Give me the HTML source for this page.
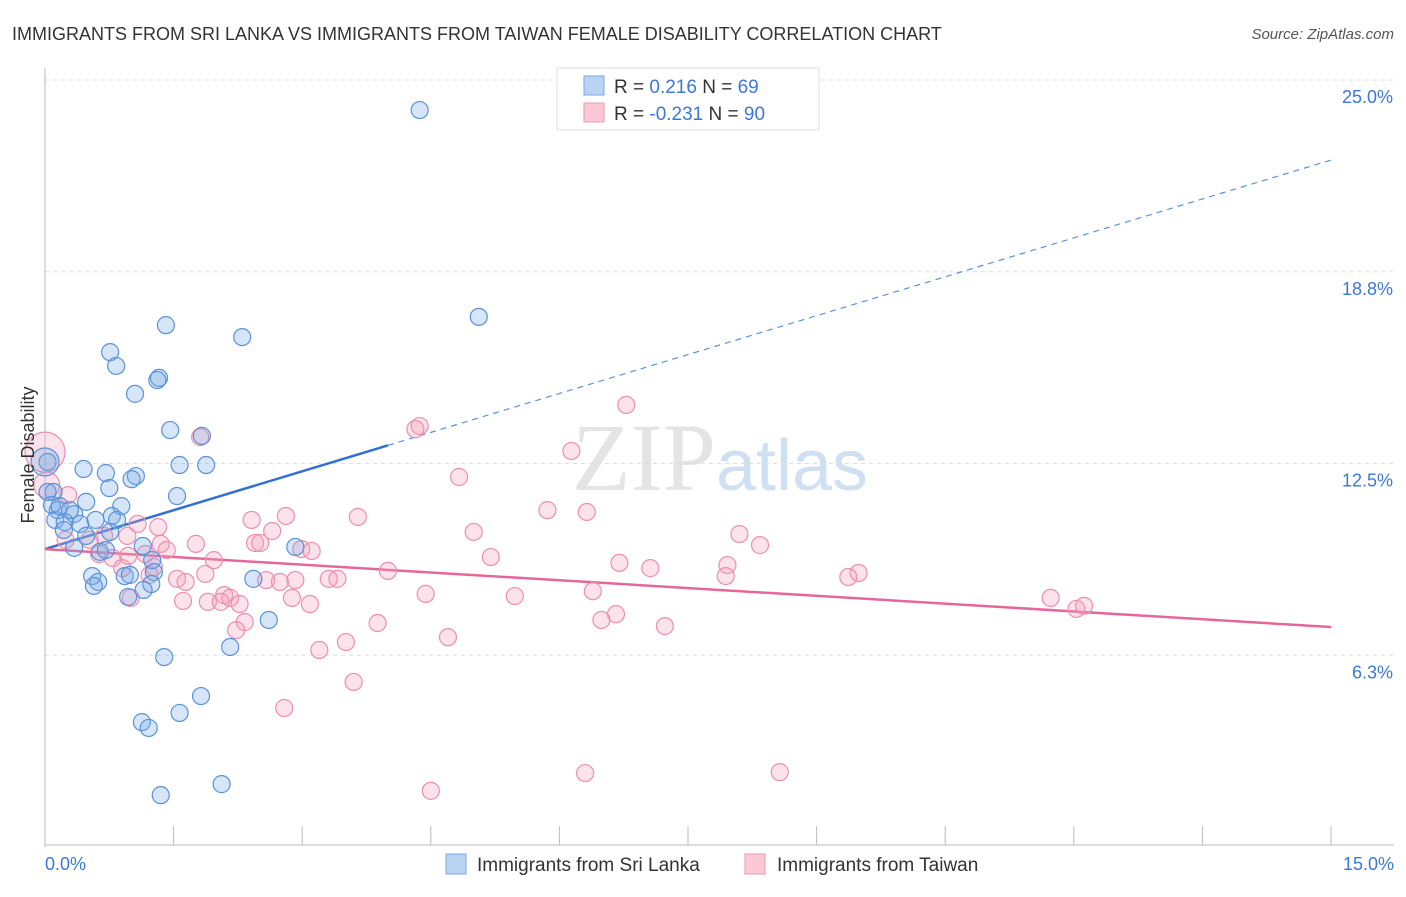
<!DOCTYPE html>
<html><head><meta charset="utf-8"><style>
body{margin:0;background:#fff;font-family:"Liberation Sans",sans-serif}
</style></head><body>
<svg id="chart" width="1406" height="892" xmlns="http://www.w3.org/2000/svg" font-family="Liberation Sans, sans-serif">
<text x="12" y="40" font-size="18" fill="#333">IMMIGRANTS FROM SRI LANKA VS IMMIGRANTS FROM TAIWAN FEMALE DISABILITY CORRELATION CHART</text>
<text x="1394" y="39" font-size="15" fill="#555" font-style="italic" text-anchor="end">Source: ZipAtlas.com</text>
<text x="720" y="490" font-size="96" fill="#e4e4e4" text-anchor="middle" font-family="Liberation Serif, serif">ZIP<tspan fill="#cfe0f3" font-family="Liberation Sans, sans-serif" font-size="72">atlas</tspan></text>
<g id="grid"></g>
<g id="axes"></g>
<g id="trend"></g>
<g id="pts"></g>
<text transform="translate(34,455) rotate(-90)" font-size="18" fill="#333" text-anchor="middle">Female Disability</text>
<text x="45" y="870" font-size="18" fill="#3b78d8">0.0%</text>
<text x="1394" y="870" font-size="18" fill="#3b78d8" text-anchor="end">15.0%</text>
<g>
<rect x="557" y="68" width="262" height="62" fill="#fff" stroke="#ddd"/>
<rect x="584" y="76" width="20" height="19" fill="#b9d3f3" stroke="#7aa7e0"/>
<rect x="584" y="103" width="20" height="19" fill="#fcc8d6" stroke="#ee9ab3"/>
<text x="614" y="93" font-size="19" fill="#333">R =  <tspan fill="#3b78d8">  0.216</tspan>   N =  <tspan fill="#3b78d8">69</tspan></text>
<text x="614" y="120" font-size="19" fill="#333">R = <tspan fill="#3b78d8">-0.231</tspan>   N =  <tspan fill="#3b78d8">90</tspan></text>
</g>
<g>
<rect x="446" y="854" width="20" height="20" fill="#b9d3f3" stroke="#7aa7e0"/>
<text x="477" y="871" font-size="19" fill="#333">Immigrants from Sri Lanka</text>
<rect x="745" y="854" width="20" height="20" fill="#fcc8d6" stroke="#ee9ab3"/>
<text x="777" y="871" font-size="19" fill="#333">Immigrants from Taiwan</text>
</g>
</svg>
<script>
const yTicks=[6.25,12.5,18.75,25];
const yTickLabels=["6.3%","12.5%","18.8%","25.0%"];
const xTicks=[0,1.5,3,4.5,6,7.5,9,10.5,12,13.5,15];
const blueX=[4.37,5.06,1.41,2.30,0.76,0.83,1.33,1.31,1.05,1.46,1.83,1.57,1.88,0.45,0.71,1.06,1.01,0.75,1.54,0.10,0.48,0.15,0.89,0.34,0.78,0.84,0.12,0.23,0.41,0.59,0.22,0.48,2.92,0.34,1.14,0.64,1.25,0.55,0.93,0.99,1.27,2.43,0.62,0.57,1.24,1.15,0.97,2.61,2.16,1.39,1.82,1.57,1.13,1.21,2.06,1.35,0.03,0.03,0.08,0.17,0.29,0.76,0.71,0.0];
const blueY=[24.02,17.28,17.01,16.62,16.13,15.68,15.29,15.22,14.77,13.59,13.40,12.45,12.45,12.32,12.19,12.09,11.99,11.70,11.44,11.57,11.25,10.98,11.11,10.85,10.79,10.66,10.66,10.59,10.53,10.66,10.33,10.14,9.78,9.75,9.81,9.62,9.35,8.83,8.83,8.87,8.96,8.74,8.64,8.51,8.57,8.38,8.15,7.40,6.52,6.19,4.92,4.37,4.07,3.88,2.05,1.69,12.55,11.57,11.15,11.11,10.98,10.27,9.68,12.55];
const blueR=[8.5,8.5,8.5,8.5,8.5,8.5,8.5,8.5,8.5,8.5,8.5,8.5,8.5,8.5,8.5,8.5,8.5,8.5,8.5,8.5,8.5,8.5,8.5,8.5,8.5,8.5,8.5,8.5,8.5,8.5,8.5,8.5,8.5,8.5,8.5,8.5,8.5,8.5,8.5,8.5,8.5,8.5,8.5,8.5,8.5,8.5,8.5,8.5,8.5,8.5,8.5,8.5,8.5,8.5,8.5,8.5,8.5,8.5,8.5,8.5,8.5,8.5,8.5,14];
const pinkX=[6.78,4.37,4.32,1.81,6.14,4.83,0.27,5.86,6.32,3.65,2.41,2.81,1.32,1.08,2.65,5.00,8.10,0.69,0.24,0.96,2.45,2.51,8.34,1.76,1.35,2.99,3.11,5.20,0.79,0.97,0.63,1.17,1.42,6.70,1.97,7.96,7.06,1.27,4.00,7.94,9.49,9.37,3.31,3.41,2.58,2.92,1.54,1.64,2.74,1.87,0.90,1.22,6.39,5.48,4.44,2.09,2.16,1.90,2.05,2.27,2.88,3.09,1.61,1.00,11.73,12.03,12.12,6.66,6.49,7.23,3.88,2.33,2.23,4.70,3.51,3.20,3.60,2.79,6.30,8.57,4.50,0.52,0.0,0.02];
const pinkY=[14.41,13.72,13.62,13.36,12.91,12.06,11.47,10.98,10.92,10.76,10.66,10.79,10.43,10.53,10.30,10.27,10.20,10.14,10.01,10.14,9.91,9.91,9.84,9.88,9.88,9.71,9.65,9.45,9.42,9.49,9.55,9.55,9.68,9.26,9.35,9.19,9.09,9.13,9.00,8.83,8.93,8.80,8.74,8.74,8.70,8.70,8.74,8.64,8.64,8.90,9.09,8.87,8.34,8.18,8.25,8.21,8.12,7.99,7.99,7.92,8.12,7.92,8.02,8.12,8.12,7.76,7.86,7.59,7.40,7.20,7.30,7.33,7.07,6.84,6.68,6.42,5.38,4.53,2.41,2.44,1.83,10.01,12.87,11.8];
const pinkR=pinkX.map((_,i)=>i===pinkX.length-2?20:(i===pinkX.length-1?13:8.5));
const blueTrend=[9.71,22.39];
const pinkTrend=[9.71,7.17];
const blueSolidEnd=4.0;

const X0=45,X1=1331,Y0=847,Y25=80;
const xs=v=>X0+(v/15)*(X1-X0);
const ys=v=>Y0-(v/25)*(Y0-Y25);
const NS="http://www.w3.org/2000/svg";
function mk(tag,attrs,parent){const e=document.createElementNS(NS,tag);for(const k in attrs)e.setAttribute(k,attrs[k]);parent.appendChild(e);return e;}
const grid=document.getElementById('grid'),axes=document.getElementById('axes');
yTicks.forEach((t,i)=>{
 const l=mk('line',{x1:X0,x2:1394,y1:ys(t),y2:ys(t),stroke:'#ddd','stroke-dasharray':'4,4'},grid);
 
 
 const tx=mk('text',{x:1393,y:ys(t)+23,'font-size':18,fill:'#3b78d8','text-anchor':'end'},axes);
 tx.textContent=yTickLabels[i];
 
 
});
const ax=mk('line',{x1:X0,x2:X0,y1:68,y2:Y0,stroke:'#bbb'},axes);


const bx=mk('line',{x1:X0,x2:1394,y1:Y0-2,y2:Y0-2,stroke:'#bbb'},axes);


xTicks.forEach(t=>{
 const l=mk('line',{x1:xs(t),x2:xs(t),y1:826,y2:Y0-2,stroke:'#bbb'},axes);
 
 
});
const pts=document.getElementById('pts');
function dots(X,Y,R,fill,stroke,name){X.forEach((x,i)=>{
 const c=mk('circle',{cx:xs(x),cy:ys(Y[i]),r:R[i],fill:fill,stroke:stroke,'stroke-width':1.2},pts);
 
 
});}
dots(pinkX,pinkY,pinkR,'rgba(246,160,186,0.3)','#ec8fae','point-taiwan');
dots(blueX,blueY,blueR,'rgba(120,170,230,0.3)','#5a92da','point-sri-lanka');
const tr=document.getElementById('trend');
const bAt=x=>blueTrend[0]+(blueTrend[1]-blueTrend[0])*x/15;
const b1=mk('line',{x1:xs(0),y1:ys(blueTrend[0]),x2:xs(blueSolidEnd),y2:ys(bAt(blueSolidEnd)),stroke:'#2f6fd6','stroke-width':2.5},tr);


const b2=mk('line',{x1:xs(blueSolidEnd),y1:ys(bAt(blueSolidEnd)),x2:xs(15),y2:ys(blueTrend[1]),stroke:'#5a92da','stroke-width':1.2,'stroke-dasharray':'6,5'},tr);


const p1=mk('line',{x1:xs(0),y1:ys(pinkTrend[0]),x2:xs(15),y2:ys(pinkTrend[1]),stroke:'#e5679a','stroke-width':2.5},tr);


</script>
</body></html>
